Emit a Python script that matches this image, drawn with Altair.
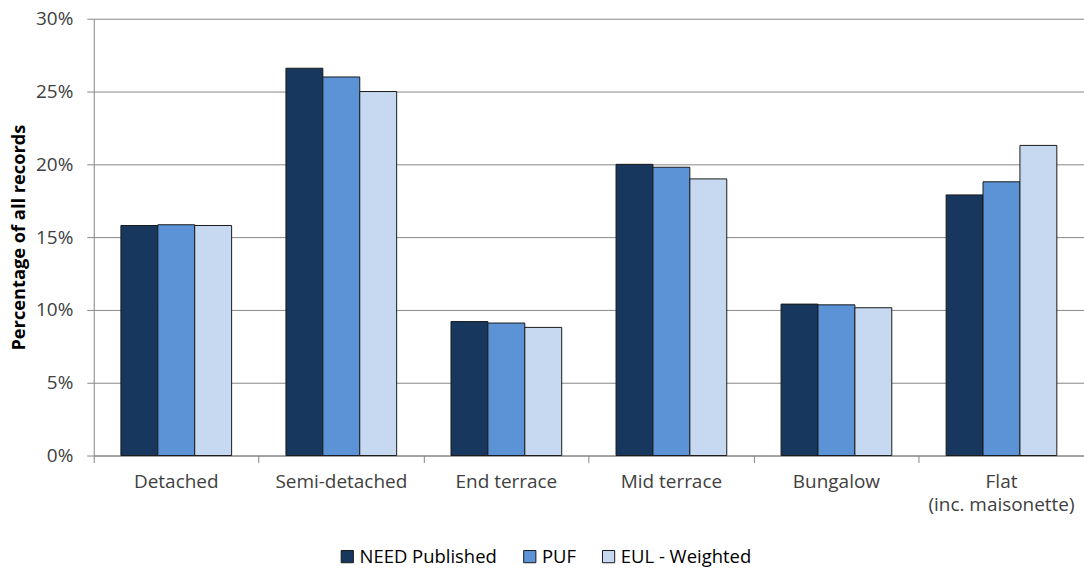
import altair as alt
import pandas as pd

# Dwelling types (a "|" marks a line break in the axis label)
categories = ["Detached", "Semi-detached", "End terrace", "Mid terrace", "Bungalow",
              "Flat|(inc. maisonette)"]
series = ["NEED Published", "PUF", "EUL - Weighted"]
colors = ["#17375E", "#5B93D6", "#C6D9F1"]

# Share of records (%) per dwelling type for each source
need_published = [15.8, 26.6, 9.2, 20.0, 10.4, 17.9]
puf = [15.85, 26.0, 9.1, 19.8, 10.35, 18.8]
eul_weighted = [15.8, 25.0, 8.8, 19.0, 10.15, 21.3]

rows = []
for name, vals in zip(series, [need_published, puf, eul_weighted]):
    for cat, v in zip(categories, vals):
        rows.append({"type": cat, "source": name, "pct": v / 100})
df = pd.DataFrame(rows)

font = "Open Sans"
text_col = "#404040"
line_col = "#868686"

chart = alt.Chart(df).mark_bar(stroke="#1a1a1a", strokeWidth=1).encode(
    x=alt.X("type:N", sort=categories, title=None,
            scale=alt.Scale(paddingInner=0, paddingOuter=0),
            axis=alt.Axis(labelAngle=0, bandPosition=0, ticks=True, tickSize=7,
                          tickColor=line_col, domainColor=line_col,
                          labelExpr="split(datum.label, '|')",
                          labelFont=font, labelFontSize=19, labelColor=text_col,
                          labelPadding=10, labelLineHeight=23, labelBaseline="top")),
    xOffset=alt.XOffset("source:N", sort=series,
                        scale=alt.Scale(paddingInner=0, paddingOuter=0.736)),
    y=alt.Y("pct:Q", title="Percentage of all records",
            scale=alt.Scale(domain=[0, 0.30], nice=False),
            axis=alt.Axis(format=".0%", values=[0, 0.05, 0.10, 0.15, 0.20, 0.25, 0.30],
                          tickSize=7, tickColor=line_col, domainColor=line_col,
                          gridColor=line_col, labelFont=font, labelFontSize=19,
                          labelColor=text_col, labelPadding=14,
                          titleFont=font, titleFontSize=18.3, titleFontWeight="bold",
                          titleColor="#000000", titlePadding=7)),
    color=alt.Color("source:N", sort=series,
                    scale=alt.Scale(domain=series, range=colors),
                    legend=alt.Legend(title=None, orient="none", direction="horizontal",
                                      legendX=245, legendY=530, symbolType="square",
                                      symbolSize=150, symbolStrokeColor="#1a1a1a",
                                      symbolStrokeWidth=1, labelFont=font,
                                      labelFontSize=18.5, labelColor="#000000",
                                      labelOffset=3, columnPadding=23)),
).properties(
    width=993, height=438,
    autosize=alt.AutoSizeParams(type="none"),
    padding={"left": 94, "top": 18, "right": 0, "bottom": 114},
).configure_view(stroke=None).configure_axis(gridWidth=1, domainWidth=1)

chart.save("out.html", embed_options={"renderer": "svg", "actions": False})
